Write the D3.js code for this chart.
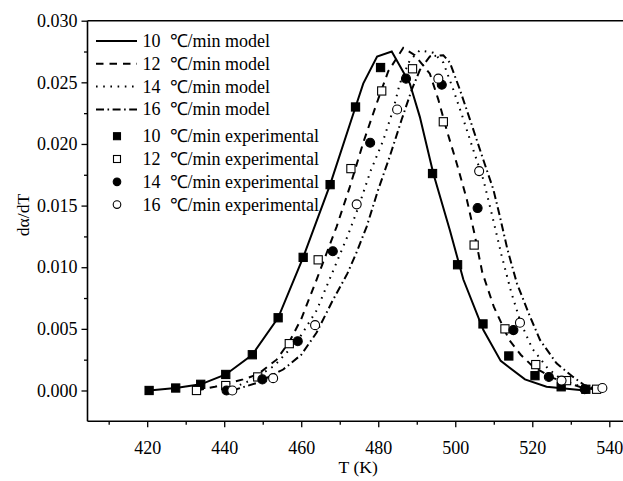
<!DOCTYPE html>
<html>
<head>
<meta charset="utf-8">
<script src="https://cdn.jsdelivr.net/npm/d3@7/dist/d3.min.js"></script>
<style>
  html, body { margin: 0; padding: 0; background: #fff; }
  svg { display: block; }
  text { font-family: "Liberation Serif", "Times New Roman", serif; fill: #000; }
</style>
</head>
<body>
<svg id="chart" width="623" height="481"></svg>
<script>
// ---------- data ----------
const rates = ["10", "12", "14", "16"];
const unitSymbol = "℃";
const modelSuffix = "/min model";
const expSuffix = "/min experimental";

const xTicks = [420, 440, 460, 480, 500, 520, 540];
const yTicks = [0.000, 0.005, 0.010, 0.015, 0.020, 0.025, 0.030];
const xLabel = "T (K)";
const yLabel = "dα/dT";

// model curves [T, dα/dT]
const model10 = [[420.5,0],[427.4,0.0002],[433.9,0.0005],[440.4,0.0013],[447.3,0.0029],[454.0,0.0059],
  [460.5,0.0108],[467.5,0.0167],[474.1,0.0230],[476.1,0.0249],[479.7,0.0271],[483.5,0.0275],
  [488.2,0.0249],[490.8,0.0222],[494.3,0.0176],[498.6,0.0130],[502.1,0.0090],[507.3,0.0049],
  [511.8,0.0024],[518.1,0.0009],[523.7,0.0003],[533.7,0.0000]];
const model12 = [[432.8,0],[437.6,0.0003],[444.9,0.0009],[448.7,0.0013],[453.6,0.0025],[457,0.0040],
  [460,0.0058],[464,0.0090],[469.2,0.0133],[472.6,0.0165],[476.1,0.0201],[479.6,0.0233],[482.6,0.0259],
  [486.5,0.0278],[489.5,0.0272],[493.4,0.0257],[495.6,0.0236],[497.8,0.0211],[500.4,0.0184],[503,0.0155],
  [505,0.0127],[507,0.0096],[510,0.0068],[514,0.0041],[517,0.0029],[520.3,0.0019],[525.5,0.0010],
  [533.2,0.0002],[536.7,0.0001]];
const model14 = [[440.6,0],[447.5,0.0009],[453,0.0020],[459,0.0040],[464,0.0065],[468,0.0095],[472,0.0125],
  [475,0.0150],[478,0.0178],[481.3,0.0203],[483.9,0.0228],[485.6,0.0249],[488.2,0.0268],[490.8,0.0276],
  [494.3,0.0274],[496.9,0.0266],[499.5,0.0244],[502.1,0.0220],[504.7,0.0195],[507.3,0.0171],[509.5,0.0143],
  [512,0.0110],[514.5,0.0080],[517,0.0055],[520,0.0034],[524,0.0018],[528,0.0008],[533,0.0003],[537,0.0001]];
const model16 = [[442.1,0],[448.4,0.0006],[455.3,0.0017],[460,0.0029],[464,0.0047],[468,0.0072],[472,0.0095],
  [474.5,0.0113],[477,0.0133],[480,0.0163],[483,0.0190],[486.1,0.0220],[488.7,0.0244],[490.8,0.0260],
  [493.4,0.0271],[496.9,0.0272],[498.6,0.0266],[501.2,0.0244],[503.8,0.0220],[507.3,0.0187],[509.9,0.0163],
  [511.6,0.0141],[513.5,0.0115],[516,0.0087],[519,0.0063],[522,0.0041],[526.3,0.0022],[530.6,0.0011],
  [534.1,0.0003],[538.2,0.0001]];

// experimental points
const exp10T = [420.5,427.4,433.9,440.4,447.3,454.0,460.5,467.5,474.1,480.6,494.1,500.6,507.2,513.9,520.7,527.5,533.9];
const exp10V = [0.0000,0.0002,0.0005,0.0013,0.0029,0.0059,0.0108,0.0167,0.0230,0.0262,0.0176,0.0102,0.0054,0.0028,0.0012,0.0003,0.0001];
const exp12T = [432.8,440.4,448.7,456.9,464.4,472.9,480.9,488.9,496.9,504.9,512.9,520.9,528.9,536.7];
const exp12V = [0.0000,0.0004,0.0011,0.0038,0.0106,0.0180,0.0243,0.0261,0.0218,0.0118,0.0050,0.0021,0.0008,0.0001];
const exp14T = [440.6,449.9,459.1,468.2,477.9,487.2,496.5,505.8,515.1,524.3,533.6];
const exp14V = [0.0000,0.0009,0.0040,0.0113,0.0201,0.0253,0.0248,0.0148,0.0049,0.0011,0.0001];
const exp16T = [442.1,452.7,463.6,474.4,484.9,495.6,506.2,516.8,527.6,538.2];
const exp16V = [0.0000,0.0010,0.0053,0.0151,0.0228,0.0253,0.0178,0.0055,0.0008,0.0002];

// ---------- layout ----------
const svg = d3.select("#chart");
const plotLeft = 87.5, plotTop = 20.7, plotBottom = 421.3;
const pxPerK = 3.851;
const xMin = 404.5, xMax = 545;
const x = d3.scaleLinear().domain([xMin, xMax]).range([plotLeft, plotLeft + (xMax - xMin) * pxPerK]);
const y = d3.scaleLinear().domain([-0.0025, 0.030]).range([plotBottom, plotTop]);

const tickFont = 18;
const legendFont = 18;

// axes
const yAxisMajor = d3.axisLeft(y).tickValues(yTicks).tickFormat(d3.format(".3f")).tickSize(6).tickPadding(4);
const yMinorVals = d3.range(0.0025, 0.030, 0.005);
const yAxisMinor = d3.axisLeft(y).tickValues(yMinorVals).tickFormat("").tickSize(3.5);
const xAxisMajor = d3.axisBottom(x).tickValues(xTicks).tickFormat(d3.format("d")).tickSize(6).tickPadding(13.5);
const xMinorVals = d3.range(410, 551, 20);
const xAxisMinor = d3.axisBottom(x).tickValues(xMinorVals).tickFormat("").tickSize(3.5);

function styleAxis(g) {
  g.attr("font-family", null).attr("font-size", null);
  g.select(".domain").attr("stroke", "#000").attr("stroke-width", 1.6);
  g.selectAll(".tick line").attr("stroke", "#000").attr("stroke-width", 1.3);
  g.selectAll(".tick text").attr("font-size", tickFont).attr("fill", "#000");
}

svg.append("g").attr("transform", `translate(${plotLeft},0)`).call(yAxisMinor).call(styleAxis).select(".domain").remove();
svg.append("g").attr("transform", `translate(0,${plotBottom})`).call(xAxisMinor).call(styleAxis).select(".domain").remove();
const gy = svg.append("g").attr("transform", `translate(${plotLeft},0)`).call(yAxisMajor).call(styleAxis);
gy.select(".domain").attr("d", `M0,${plotBottom}V${plotTop}`);
const gx = svg.append("g").attr("transform", `translate(0,${plotBottom})`).call(xAxisMajor).call(styleAxis);
gx.select(".domain").attr("d", `M${plotLeft},0H${x(xMax)}`);

// top frame line
svg.append("line").attr("x1", plotLeft).attr("x2", x(xMax)).attr("y1", y(0.030)).attr("y2", y(0.030))
  .attr("stroke", "#000").attr("stroke-width", 1.6);

// axis titles
svg.append("text").attr("x", (x(420) + x(540)) / 2 - 20).attr("y", 473)
  .attr("text-anchor", "middle").attr("font-size", 17.6).text(xLabel);
svg.append("text").attr("transform", `translate(29,215) rotate(-90)`)
  .attr("text-anchor", "middle").attr("font-size", 17.6).text(yLabel);

// ---------- lines ----------
const dashes = ["none", "7.5,6", "1.6,5.6", "8,3.5,1.6,3.5"];
const models = [model10, model12, model14, model16];
const line = d3.line().x(d => x(d[0])).y(d => y(d[1]));
models.forEach((m, i) => {
  svg.append("path").datum(m).attr("d", line).attr("fill", "none").attr("stroke", "#000")
    .attr("stroke-width", 2).attr("stroke-dasharray", dashes[i]).attr("stroke-linejoin", "miter");
});

// ---------- markers ----------
const expT = [exp10T, exp12T, exp14T, exp16T];
const expV = [exp10V, exp12V, exp14V, exp16V];
const shapes = ["square", "square", "circle", "circle"];
const filled = [true, false, true, false];

function drawMarker(g, cx, cy, shape, fill, s) {
  if (shape === "square") {
    g.append("rect").attr("x", cx - s / 2).attr("y", cy - s / 2).attr("width", s).attr("height", s)
      .attr("fill", fill ? "#000" : "#fff").attr("stroke", "#000").attr("stroke-width", 1.1);
  } else {
    g.append("circle").attr("cx", cx).attr("cy", cy).attr("r", s / 2)
      .attr("fill", fill ? "#000" : "#fff").attr("stroke", "#000").attr("stroke-width", 1.1);
  }
}
const gm = svg.append("g");
expT.forEach((ts, i) => {
  ts.forEach((t, j) => {
    drawMarker(gm, x(t), y(expV[i][j]), shapes[i], filled[i], shapes[i] === "square" ? 8.2 : 9);
  });
});

// ---------- legend ----------
const lg = svg.append("g");
const rowH = 22.8, legTop = 41, groupGap = 4;
const legendRows = rates.map(r => r + "  " + unitSymbol + modelSuffix)
  .concat(rates.map(r => r + "  " + unitSymbol + expSuffix));
legendRows.forEach((lab, i) => {
  const cy = legTop + i * rowH + (i >= 4 ? groupGap : 0);
  if (i < 4) {
    lg.append("line").attr("x1", 96).attr("x2", 137).attr("y1", cy).attr("y2", cy)
      .attr("stroke", "#000").attr("stroke-width", 2).attr("stroke-dasharray", dashes[i]);
  } else {
    const k = i - 4;
    drawMarker(lg, 117, cy, shapes[k], filled[k], shapes[k] === "square" ? 7 : 7.6);
  }
  lg.append("text").attr("x", 142.5).attr("y", cy + 6).attr("font-size", legendFont)
    .attr("xml:space", "preserve").style("white-space", "pre").text(lab);
});
</script>
</body>
</html>
